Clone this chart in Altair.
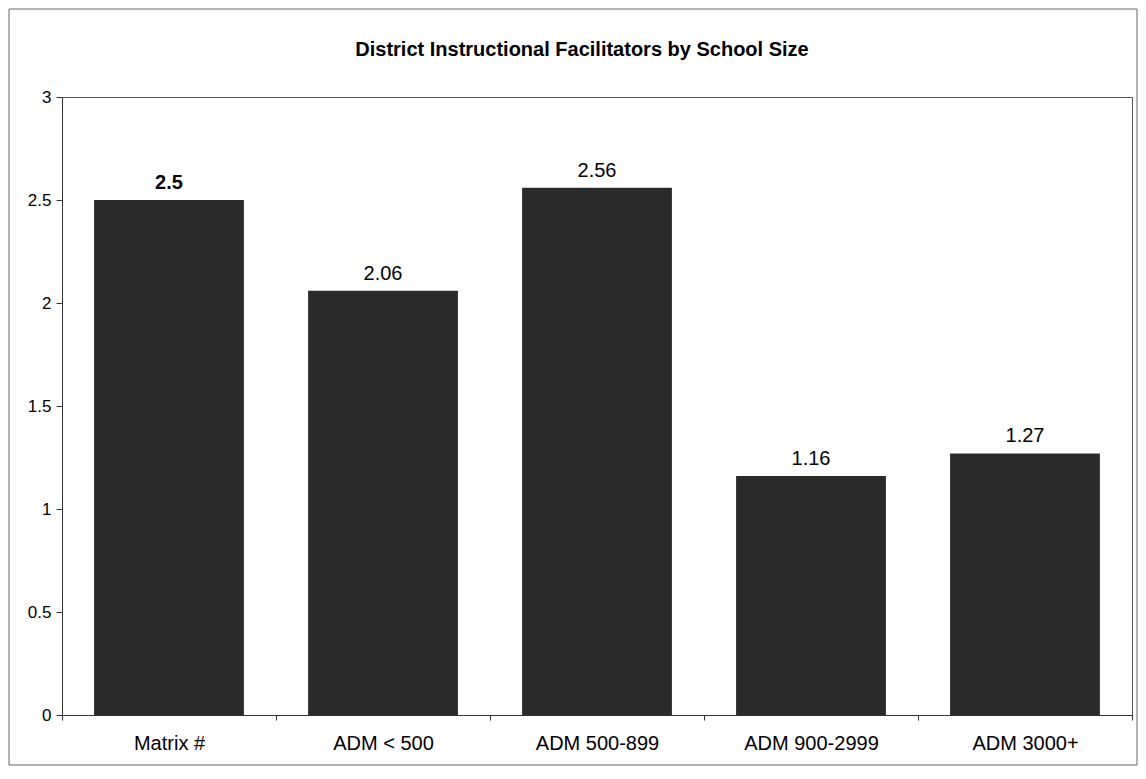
import altair as alt
import pandas as pd

categories = ["Matrix #", "ADM < 500", "ADM 500-899", "ADM 900-2999", "ADM 3000+"]
values = [2.5, 2.06, 2.56, 1.16, 1.27]
labels = ["2.5", "2.06", "2.56", "1.16", "1.27"]
bold = [True, False, False, False, False]
y_ticks = [0, 0.5, 1, 1.5, 2, 2.5, 3]
title_text = "District Instructional Facilitators by School Size"

df = pd.DataFrame({"cat": categories, "val": values, "lab": labels, "bold": bold})

FONT = "Liberation Sans"

x_enc = alt.X("cat:N", sort=categories, title=None,
              scale=alt.Scale(paddingInner=0, paddingOuter=0),
              axis=alt.Axis(labelAngle=0, labelFontSize=20, labelFont=FONT, labelColor="#000",
                            labelPadding=13, tickBand="extent", tickSize=5, tickColor="#333",
                            domainColor="#333", grid=False))
y_enc = alt.Y("val:Q", title=None,
              scale=alt.Scale(domain=[0, 3], nice=False),
              axis=alt.Axis(values=y_ticks, format=".2~f", labelFontSize=17, labelFont=FONT,
                            labelColor="#000", tickSize=6, tickColor="#333", domainColor="#333",
                            grid=False, labelPadding=5))

base = alt.Chart(df)

bars = base.mark_bar(color="#2a2a2a", width=alt.RelativeBandSize(0.7)).encode(x=x_enc, y=y_enc)

text_bold = base.transform_filter("datum.bold").mark_text(
    baseline="alphabetic", dy=-11, fontSize=20, font=FONT, color="#000", fontWeight="bold"
).encode(x=alt.X("cat:N", sort=categories), y="val:Q", text="lab:N")

text_norm = base.transform_filter("!datum.bold").mark_text(
    baseline="alphabetic", dy=-11, fontSize=20, font=FONT, color="#000"
).encode(x=alt.X("cat:N", sort=categories), y="val:Q", text="lab:N")

deco = pd.DataFrame({"t": [title_text]})

border = alt.Chart(deco).mark_rect(
    filled=False, stroke="#666", strokeWidth=1
).encode(x=alt.value(-53), x2=alt.value(1075), y=alt.value(-88), y2=alt.value(668))

title = alt.Chart(deco).mark_text(
    fontSize=20, fontWeight="bold", font=FONT, color="#000", baseline="middle", align="center"
).encode(text="t:N", x=alt.value(520), y=alt.value(-47))

chart = alt.layer(border, title, bars, text_bold, text_norm).properties(
    width=1070, height=618,
    autosize=alt.AutoSizeParams(type="none"),
    padding={"left": 54, "top": 89, "right": 6, "bottom": 52},
    background="white",
).configure_view(stroke="#555", strokeWidth=1)

chart.save("out.html", embed_options={"renderer": "svg", "actions": False})
